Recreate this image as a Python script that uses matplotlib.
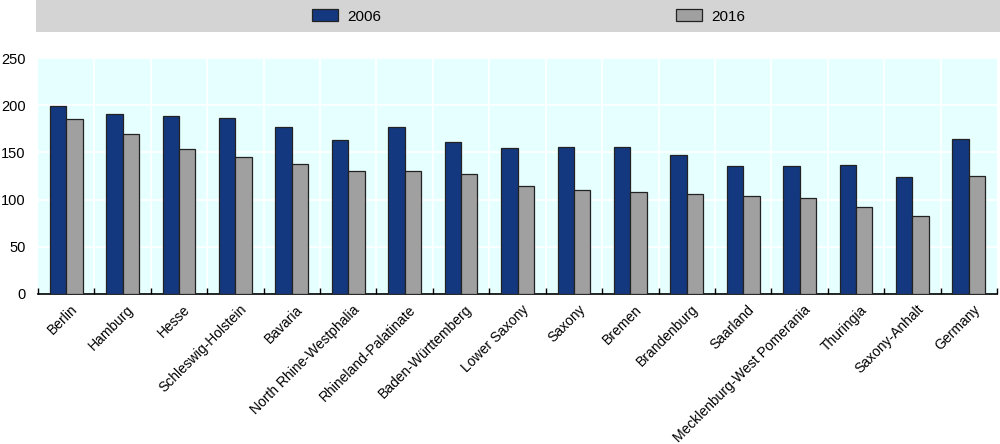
import matplotlib.pyplot as plt
import numpy as np
from matplotlib.patches import Rectangle

plt.rcParams["font.family"] = ["Liberation Sans", "DejaVu Sans"]

regions = ["Berlin", "Hamburg", "Hesse", "Schleswig-Holstein", "Bavaria",
           "North Rhine-Westphalia", "Rhineland-Palatinate", "Baden-Württemberg",
           "Lower Saxony", "Saxony", "Bremen", "Brandenburg", "Saarland",
           "Mecklenburg-West Pomerania", "Thuringia", "Saxony-Anhalt", "Germany"]
v2006 = [199, 191, 189, 187, 177, 163, 177, 161, 155, 156, 156, 147, 136, 136, 137, 124, 164]
v2016 = [186, 170, 154, 145, 138, 130, 130, 127, 114, 110, 108, 106, 104, 102, 92, 83, 125]

fig = plt.figure(figsize=(10, 4.44), dpi=100)
ax = fig.add_axes([0.038, 0.338, 0.959, 0.531])

x = np.arange(len(regions))
w = 0.29
b1 = ax.bar(x - w / 2, v2006, w, color="#14387f", edgecolor="#222222", linewidth=0.9, label="2006", zorder=3)
b2 = ax.bar(x + w / 2, v2016, w, color="#a0a0a0", edgecolor="#222222", linewidth=0.9, label="2016", zorder=3)

# background and white grid
ax.set_facecolor("#e6ffff")
ax.set_xlim(-0.5, len(regions) - 0.5)
ax.set_ylim(0, 250)
ax.set_yticks(range(0, 251, 50))
for y in range(50, 251, 50):
    ax.axhline(y, color="white", linewidth=1.2, zorder=1)
for xb in np.arange(0.5, len(regions) - 0.5, 1):
    ax.axvline(xb, color="white", linewidth=1.2, zorder=1)

ax.set_xticks(np.arange(-0.5, len(regions), 1))
ax.set_xticklabels([])
ax.tick_params(axis="x", direction="in", length=4, width=1, color="black")
ax.tick_params(axis="y", length=0, labelsize=10.5, pad=9)
for i, name in enumerate(regions):
    ax.text(i + 0.07, -9, name, rotation=45, ha="right", va="top",
            rotation_mode="anchor", fontsize=10)

for s in ["top", "right", "left"]:
    ax.spines[s].set_visible(False)
ax.spines["bottom"].set_linewidth(1.2)

# legend band on top
fig.patches.append(Rectangle((0.036, 0.928), 0.964, 0.072, transform=fig.transFigure,
                             facecolor="#d4d4d4", edgecolor="none", zorder=0))
fig.legend(handles=[b1, b2], loc="center", bbox_to_anchor=(0.529, 0.963), ncol=2,
           frameon=False, fontsize=11, handlelength=1.7, handleheight=0.85,
           columnspacing=19.3, handletextpad=0.6)

fig.savefig("out.png", dpi=100)
